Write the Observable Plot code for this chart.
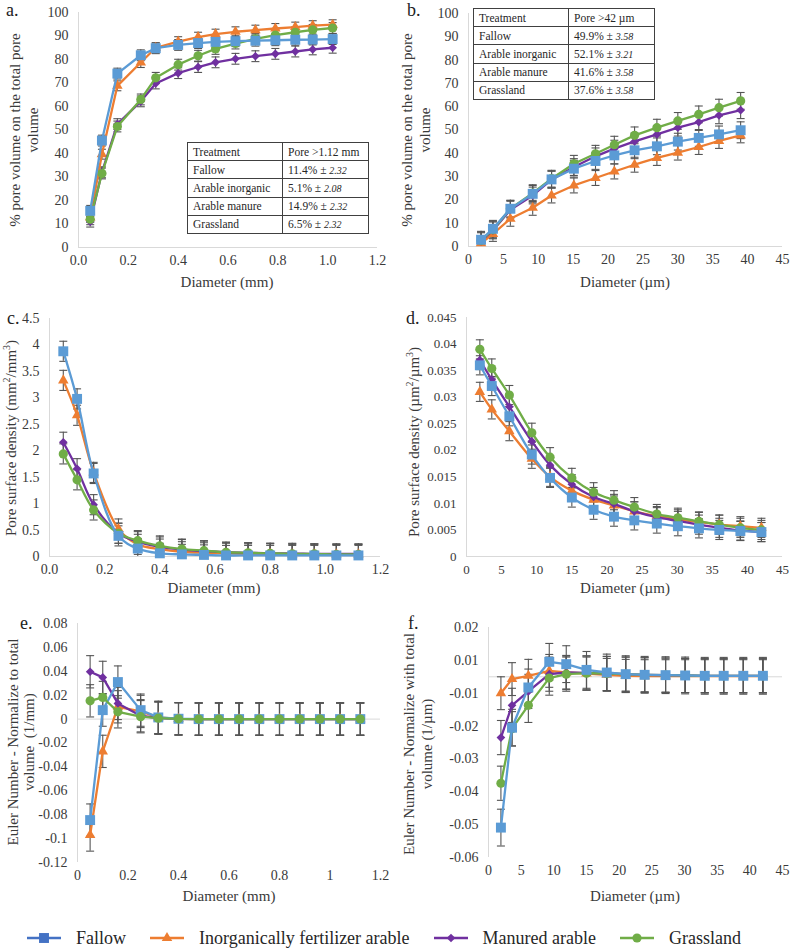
<!DOCTYPE html>
<html><head><meta charset="utf-8">
<script src="https://cdn.jsdelivr.net/npm/d3@7"></script>
<script src="https://cdn.jsdelivr.net/npm/@observablehq/plot@0.6"></script>
<style>
body{margin:0;background:#fff;}
#root{position:relative;width:790px;height:949px;font-family:'Liberation Serif','Times New Roman',serif;color:#404040;overflow:hidden;background:#fff;}
.lbl{position:absolute;white-space:nowrap;text-align:center;font-size:15px;line-height:18px;color:#3a3a3a;}
.letter{position:absolute;font-size:18px;line-height:18px;color:#222;}
table.tb{position:absolute;border-collapse:collapse;background:#fff;font-size:11.5px;color:#262626;table-layout:fixed;}
table.tb td{border:1px solid #404040;padding:0 5px;white-space:nowrap;overflow:hidden;}
table.tb i{font-size:10px;}
.legend{position:absolute;left:27px;top:926px;height:24px;display:flex;align-items:center;gap:24px;font-size:18px;color:#262626;}
.legend .it{display:flex;align-items:center;gap:15px;}
</style>
</head><body><div id="root"></div>
<script>
// ---------- data ----------
const seriesNames = ["Fallow", "Inorganically fertilizer arable", "Manured arable", "Grassland"];
const seriesColors = ["#5B9BD5", "#ED7D31", "#7030A0", "#70AD47"];
const legendColors = ["#4472C4", "#ED7D31", "#7030A0", "#70AD47"];

// diameters
const xA = [0.047, 0.094, 0.156, 0.25, 0.31, 0.40, 0.48, 0.55, 0.63, 0.71, 0.79, 0.87, 0.94, 1.02];
const xMm = [0.05, 0.10, 0.16, 0.25, 0.32, 0.40, 0.48, 0.56, 0.64, 0.72, 0.80, 0.88, 0.96, 1.04, 1.12];
const xB = [1.8, 3.5, 6.0, 9.2, 11.9, 15.1, 18.2, 20.9, 23.8, 27, 30, 33, 35.9, 39];
const xUm = [1.9, 3.6, 6.1, 9.3, 11.9, 15, 18.1, 21, 23.9, 27.1, 30.1, 33.1, 36, 39, 42];

// a. cumulative % pore volume (mm)
const fallowA = [15.6, 45.5, 74, 81.8, 84.8, 86.2, 87.0, 87.5, 87.8, 88.0, 88.2, 88.4, 88.5, 88.7];
const inorgA  = [12.8, 39.7, 68.8, 78.7, 85, 87.6, 89.5, 90.8, 91.8, 92.5, 93.2, 93.8, 94.4, 94.8];
const manA    = [11, 32, 52.5, 62.2, 69.8, 74.2, 76.8, 78.8, 80.3, 81.4, 82.4, 83.4, 84.3, 85];
const grassA  = [12, 31.5, 51.5, 63, 72.2, 77.8, 81.6, 84.5, 86.8, 88.8, 90.4, 91.6, 92.6, 93.4];
const errA = [2.3, 2.1, 2.3, 2.3];

// b. cumulative % pore volume (µm)
const fallowB = [2.9, 7.6, 16.2, 22.6, 28.8, 33.4, 36.7, 39.1, 41.3, 43, 45, 46.6, 48.1, 49.9];
const inorgB  = [1.4, 5.4, 11.9, 16.6, 21.9, 26.2, 29.4, 32.2, 35.1, 38, 40.3, 42.7, 45.3, 47.7];
const manB    = [2.3, 6.9, 15.8, 21.9, 28.7, 34.1, 38.7, 42, 45.1, 48.1, 51, 53.4, 56.3, 58.5];
const grassB  = [2.6, 7.2, 16.2, 22.9, 29.1, 35.5, 39.8, 43.7, 47.7, 51, 53.9, 56.7, 59.6, 62.5];
const errB = [3.6, 3.2, 3.6, 3.6];

// c. pore surface density (mm2/mm3)
const fallowC = [3.88, 2.98, 1.57, 0.39, 0.15, 0.06, 0.04, 0.03, 0.02, 0.02, 0.02, 0.02, 0.02, 0.02, 0.02];
const inorgC  = [3.33, 2.67, 1.59, 0.52, 0.23, 0.14, 0.09, 0.07, 0.06, 0.05, 0.05, 0.04, 0.04, 0.04, 0.04];
const manC    = [2.16, 1.66, 0.98, 0.44, 0.28, 0.18, 0.13, 0.10, 0.08, 0.07, 0.06, 0.06, 0.05, 0.05, 0.05];
const grassC  = [1.94, 1.45, 0.88, 0.44, 0.30, 0.20, 0.14, 0.11, 0.08, 0.07, 0.06, 0.05, 0.05, 0.04, 0.04];
const errC = [0.19, 0.19, 0.19, 0.19];

// d. pore surface density (µm2/µm3)
const fallowD = [0.0360, 0.0321, 0.0264, 0.0192, 0.0148, 0.0111, 0.0088, 0.0075, 0.0068, 0.0062, 0.0057, 0.0053, 0.0050, 0.0048, 0.0046];
const inorgD  = [0.0310, 0.0277, 0.0236, 0.0184, 0.0150, 0.0124, 0.0107, 0.0096, 0.0085, 0.0076, 0.0070, 0.0065, 0.0060, 0.0057, 0.0054];
const manD    = [0.0370, 0.0333, 0.0282, 0.0217, 0.0172, 0.0136, 0.0112, 0.0099, 0.0085, 0.0074, 0.0067, 0.0060, 0.0054, 0.0049, 0.0046];
const grassD  = [0.0390, 0.0354, 0.0304, 0.0233, 0.0187, 0.0148, 0.0121, 0.0106, 0.0093, 0.0080, 0.0073, 0.0066, 0.0060, 0.0054, 0.0050];
const errD = [0.0018, 0.0018, 0.0018, 0.0018];

// e. Euler number normalized (1/mm)
const fallowE = [-0.0845, 0.0075, 0.031, 0.0075, 0.0014, 0.0003, 0, 0, 0, 0, 0, 0, 0, 0, 0];
const inorgE  = [-0.097, -0.027, 0.0103, 0.0064, 0.0014, 0.0002, 0, 0, 0, 0, 0, 0, 0, 0, 0];
const manE    = [0.0396, 0.0349, 0.0131, 0.0028, 0.0008, 0.0002, 0, 0, 0, 0, 0, 0, 0, 0, 0];
const grassE  = [0.0153, 0.0181, 0.0061, 0.002, 0.0008, 0.0002, 0, 0, 0, 0, 0, 0, 0, 0, 0];
const errE = [0.0135, 0.0135, 0.0135, 0.0135];

// f. Euler number normalized (1/µm), read against the printed tick labels
const fallowF = [-0.0509, -0.0205, -0.0065, 0.0091, 0.0077, 0.0042, 0.0026, 0.0016, 0.0012, 0.001, 0.0008, 0.0006, 0.0006, 0.0006, 0.0006];
const inorgF  = [-0.01, -0.0014, 0.0006, 0.0036, 0.0026, 0.002, 0.0012, 0.0006, 0.0004, 0.0004, 0.0004, 0.0004, 0.0004, 0.0004, 0.0004];
const manF    = [-0.0235, -0.0137, -0.0089, 0.0016, 0.0026, 0.0024, 0.002, 0.0016, 0.0012, 0.001, 0.0008, 0.0006, 0.0006, 0.0006, 0.0006];
const grassF  = [-0.0374, -0.0208, -0.0137, -0.0008, 0.0016, 0.0022, 0.002, 0.0016, 0.0012, 0.001, 0.0008, 0.0006, 0.0006, 0.0006, 0.0006];
const errF = [0.0056, 0.005, 0.0052, 0.0052];
const fTickLabels = ["-0.06", "-0.05", "-0.04", "-0.03", "-0.02", "-0.01", "0.01", "0.02"];

// tick values
const ticksMm = [0, 0.2, 0.4, 0.6, 0.8, 1, 1.2];
const ticksUm = [0, 5, 10, 15, 20, 25, 30, 35, 40, 45];
const ticksPct = [0, 10, 20, 30, 40, 50, 60, 70, 80, 90, 100];
const ticksC = [0, 0.5, 1, 1.5, 2, 2.5, 3, 3.5, 4, 4.5];
const ticksD = [0, 0.005, 0.01, 0.015, 0.02, 0.025, 0.03, 0.035, 0.04, 0.045];
const ticksE = [-0.12, -0.1, -0.08, -0.06, -0.04, -0.02, 0, 0.02, 0.04, 0.06, 0.08];

// tables
const tableHeadA = ["Treatment", "Pore >1.12 mm"];
const tableHeadB = ["Treatment", "Pore >42 µm"];
const tableTreat = ["Fallow", "Arable inorganic", "Arable manure", "Grassland"];
const tableValA = ["11.4%", "5.1%", "14.9%", "6.5%"];
const tableSdA = ["2.32", "2.08", "2.32", "2.32"];
const tableValB = ["49.9%", "52.1%", "41.6%", "37.6%"];
const tableSdB = ["3.58", "3.21", "3.58", "3.58"];

// ---------- helpers ----------
const root = document.getElementById("root");
const symbols = [d3.symbolSquare, d3.symbolTriangle, d3.symbolDiamond2, d3.symbolCircle];
const symbolR = [5.6, 3.9, 3.9, 4.6];
const capSymbol = {draw(ctx, size) { const r = Math.sqrt(size / Math.PI); ctx.moveTo(-r, 0); ctx.lineTo(r, 0); }};
const errColor = "#555555";

// piecewise mapping of panel f values onto its evenly spaced printed labels
function slotF(v) {
  if (v <= -0.01) return (v + 0.06) / 0.01;
  if (v <= 0.01) return 5 + (v + 0.01) / 0.02;
  return 6 + (v - 0.01) / 0.01;
}

function panel(cfg) {
  const series = cfg.ys.map((ys, k) => ({
    k, rows: cfg.xs.slice(0, ys.length).map((x, i) => {
      const y = cfg.map ? cfg.map(ys[i]) : ys[i];
      const e = cfg.errs[k];
      return {x, y, lo: y - e, hi: y + e};
    })
  }));
  const y0 = cfg.yDomain[0];
  const marks = [
    Plot.ruleX([cfg.xDomain[0]], {stroke: "#d9d9d9", strokeWidth: 1}),
    Plot.ruleY([cfg.zero], {stroke: "#d9d9d9", strokeWidth: 1})
  ];
  for (const s of series) {
    marks.push(Plot.ruleX(s.rows, {x: "x", y1: d => Math.max(d.lo, y0), y2: "hi", stroke: errColor, strokeWidth: 1.1}));
    marks.push(Plot.dot(s.rows, {x: "x", y: "hi", symbol: capSymbol, r: 4, stroke: errColor, fill: "none", strokeWidth: 1.1}));
    marks.push(Plot.dot(s.rows.filter(d => d.lo >= y0), {x: "x", y: "lo", symbol: capSymbol, r: 4, stroke: errColor, fill: "none", strokeWidth: 1.1}));
  }
  for (const k of cfg.order) {
    const s = series[k];
    marks.push(Plot.line(s.rows, {x: "x", y: "y", stroke: seriesColors[k], strokeWidth: 2.3, curve: cfg.curve || "linear"}));
    marks.push(Plot.dot(s.rows, {x: "x", y: "y", symbol: symbols[k], r: symbolR[k], fill: seriesColors[k], stroke: "none"}));
  }
  const svg = Plot.plot({
    width: cfg.w, height: cfg.h,
    marginLeft: cfg.m[0], marginRight: cfg.m[1], marginTop: cfg.m[2], marginBottom: cfg.m[3],
    style: {background: "transparent", fontFamily: "'Liberation Serif','Times New Roman',serif", fontSize: cfg.font || "14px", color: "#3a3a3a", overflow: "visible"},
    x: {domain: cfg.xDomain, ticks: cfg.xTicks, tickFormat: cfg.xFmt, tickSize: 0, tickPadding: 8, label: null},
    y: {domain: cfg.yDomain, ticks: cfg.yTicks, tickFormat: cfg.yFmt, tickSize: 0, tickPadding: 10, label: null},
    marks
  });
  svg.style.position = "absolute";
  svg.style.left = cfg.left + "px";
  svg.style.top = cfg.top + "px";
  root.appendChild(svg);
}

function label(html, cx, cy, rotate, extra) {
  const d = document.createElement("div");
  d.className = "lbl";
  d.innerHTML = html;
  d.style.left = cx + "px";
  d.style.top = cy + "px";
  d.style.transform = "translate(-50%,-50%)" + (rotate ? " rotate(-90deg)" : "");
  if (extra) Object.assign(d.style, extra);
  root.appendChild(d);
}
function letter(t, x, y) {
  const d = document.createElement("div");
  d.className = "letter"; d.textContent = t;
  d.style.left = x + "px"; d.style.top = y + "px";
  root.appendChild(d);
}
function table(head, vals, sds, left, top) {
  const t = document.createElement("table");
  t.className = "tb";
  t.style.left = left + "px"; t.style.top = top + "px";
  t.style.width = "181px"; t.style.height = "92px";
  let h = `<colgroup><col style="width:95px"><col style="width:86px"></colgroup>`;
  h += `<tr><td>${head[0]}</td><td>${head[1]}</td></tr>`;
  tableTreat.forEach((n, i) => { h += `<tr><td>${n}</td><td>${vals[i]} ± <i>${sds[i]}</i></td></tr>`; });
  t.innerHTML = h;
  root.appendChild(t);
}

const fmt1 = d => d.toFixed(1);
const fmtS = d => String(d);

// ---------- panels ----------
panel({left: 0, top: 0, w: 395, h: 310, m: [78, 18, 12, 63],
  xs: xA, ys: [fallowA, inorgA, manA, grassA], errs: errA, order: [1, 2, 3, 0],
  xDomain: [0, 1.2], xTicks: ticksMm, xFmt: fmt1, yDomain: [0, 100], yTicks: ticksPct, yFmt: fmtS, zero: 0});
panel({left: 395, top: 0, w: 395, h: 310, m: [73, 8, 13, 64],
  xs: xB, ys: [fallowB, inorgB, manB, grassB], errs: errB, order: [1, 2, 3, 0],
  xDomain: [0, 45], xTicks: ticksUm, xFmt: fmtS, yDomain: [0, 100], yTicks: ticksPct, yFmt: fmtS, zero: 0});
panel({left: 0, top: 305, w: 395, h: 305, m: [49, 15, 13, 54],
  xs: xMm, ys: [fallowC, inorgC, manC, grassC], errs: errC, order: [1, 2, 3, 0], curve: "catmull-rom",
  xDomain: [0, 1.2], xTicks: ticksMm, xFmt: fmt1, yDomain: [0, 4.5], yTicks: ticksC, yFmt: fmtS, zero: 0});
panel({left: 395, top: 305, w: 395, h: 305, m: [71, 8, 12, 54], font: "13px",
  xs: xUm, ys: [fallowD, inorgD, manD, grassD], errs: errD, order: [1, 2, 3, 0], curve: "catmull-rom",
  xDomain: [0, 45], xTicks: ticksUm, xFmt: fmtS, yDomain: [0, 0.045], yTicks: ticksD, yFmt: fmtS, zero: 0});
panel({left: 0, top: 610, w: 395, h: 290, m: [77, 15, 13, 38],
  xs: xMm, ys: [fallowE, inorgE, manE, grassE], errs: errE, order: [1, 2, 0, 3],
  xDomain: [0, 1.2], xTicks: ticksMm, xFmt: fmtS, yDomain: [-0.12, 0.08], yTicks: ticksE, yFmt: fmtS, zero: 0});
panel({left: 395, top: 610, w: 395, h: 290, m: [93, 8, 17, 43],
  xs: xUm, ys: [fallowF, inorgF, manF, grassF], errs: errF.map(e => e / 0.01), map: slotF, order: [1, 2, 3, 0],
  xDomain: [0, 45], xTicks: ticksUm, xFmt: fmtS, yDomain: [0, 7], yTicks: [0, 1, 2, 3, 4, 5, 6, 7], yFmt: i => fTickLabels[i], zero: slotF(0)});

// ---------- texts ----------
letter("a.", 6, 1); letter("b.", 407, 1); letter("c.", 7, 309); letter("d.", 406, 309); letter("e.", 20, 614); letter("f.", 408, 614);

label("% pore volume on the total pore<br>volume", 24, 130, true);
label("% pore volume on the total pore<br>volume", 416, 130, true);
label("Pore surface density (mm<sup style='font-size:10px'>2</sup>/mm<sup style='font-size:10px'>3</sup>)", 9, 438, true);
label("Pore surface density (µm<sup style='font-size:10px'>2</sup>/µm<sup style='font-size:10px'>3</sup>)", 412, 442, true);
label("Euler Number - Normalize to total<br>volume &nbsp;(1/mm)", 21, 742, true, {lineHeight: "16px"});
label("Euler Number - Normalize with total<br>volume (1/µm)", 418, 744, true);

label("Diameter (mm)", 227, 282); label("Diameter (µm)", 625, 282);
label("Diameter (mm)", 214, 588); label("Diameter (µm)", 625, 588);
label("Diameter (mm)", 229, 896); label("Diameter (µm)", 635, 896);

table(tableHeadA, tableValA, tableSdA, 187, 142);
table(tableHeadB, tableValB, tableSdB, 473, 8);

// ---------- legend ----------
const lg = document.createElement("div");
lg.className = "legend";
seriesNames.forEach((n, k) => {
  const it = document.createElement("div");
  it.className = "it";
  const sz = symbolR[k] * symbolR[k] * Math.PI;
  const path = d3.symbol(symbols[k], sz)();
  it.innerHTML = `<svg width="34" height="14" viewBox="-17 -7 34 14"><line x1="-17" x2="17" y1="0" y2="0" stroke="${legendColors[k]}" stroke-width="2.5"/><path d="${path}" fill="${legendColors[k]}"/></svg><span>${n}</span>`;
  lg.appendChild(it);
});
root.appendChild(lg);
</script>
</body></html>
